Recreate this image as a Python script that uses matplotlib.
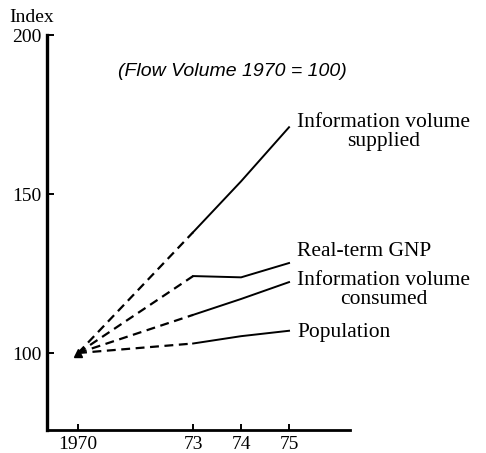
import numpy as np
import matplotlib
matplotlib.use("Agg")
import matplotlib.pyplot as plt

years = [1970, 1973, 1974, 1975]
supplied = [100, 138, 154, 171]
gnp = [100, 124.2, 123.8, 128.3]
consumed = [100, 112, 117, 122.3]
population = [100, 103, 105.3, 107]
yticks = [100, 150, 200]
xtick_labels = ["1970", "73", "74", "75"]

series = [
    (supplied, "Information volume\nsupplied"),
    (gnp, "Real-term GNP"),
    (consumed, "Information volume\nconsumed"),
    (population, "Population"),
]

plt.rcParams['font.family'] = ['Liberation Serif', 'DejaVu Serif']

fig = plt.figure(figsize=(4.86, 4.53), dpi=100)
ax = fig.add_axes([0.0967, 0.0508, 0.6233, 0.8719])

K = 0.8
def fwd(x):
    x = np.asarray(x, dtype=float)
    return np.where(x >= 1973, x, 1973 - (1973 - x) * K)
def inv(x):
    x = np.asarray(x, dtype=float)
    return np.where(x >= 1973, x, 1973 - (1973 - x) / K)
ax.set_xscale('function', functions=(fwd, inv))

for vals, label in series:
    ax.plot(years[:2], vals[:2], color='black', lw=1.6, ls=(0, (4, 2.5)))
    ax.plot(years[1:], vals[1:], color='black', lw=1.4, ls='-')

ax.plot([years[0]], [supplied[0]], marker='^', color='black', ms=6, clip_on=False)

ax.set_xlim(1969.19, 1976.27)
ax.set_ylim(75.8, 200)

ax.set_xticks(years)
ax.set_xticklabels(xtick_labels, fontsize=14)
ax.set_yticks(yticks)
ax.set_yticklabels([str(v) for v in yticks], fontsize=14)
ax.tick_params(axis='both', direction='in', length=5, width=1.4, pad=4)
ax.tick_params(axis='x', pad=4, length=4)
ax.minorticks_off()

for s in ['top', 'right']:
    ax.spines[s].set_visible(False)
ax.spines['left'].set_linewidth(2.4)
ax.spines['bottom'].set_linewidth(2.0)

# labels at line ends
label_y = [169.5, 131.8, 119.8, 106.3]
for (vals, label), ly in zip(series, label_y):
    ax.text(1975.17, ly, label, fontsize=15.5, ha='left', va='center',
            multialignment='center', linespacing=0.95, clip_on=False)

fig.text(0.02, 0.962, "Index", fontsize=14, va='center', ha='left')
fig.text(0.243, 0.842, "(Flow Volume 1970 = 100)", fontsize=14, style='italic',
         family=['Liberation Sans', 'DejaVu Sans'], va='center', ha='left')

fig.savefig("out.png", dpi=100)
